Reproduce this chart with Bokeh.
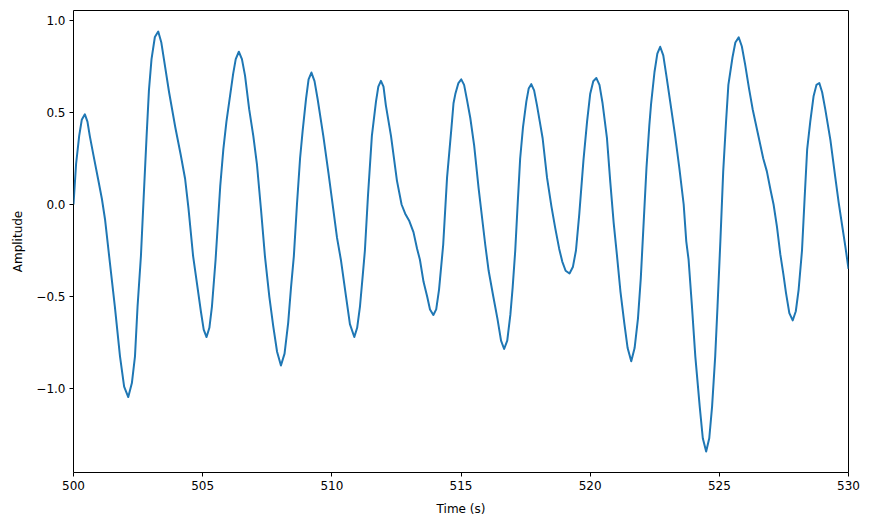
from bokeh.plotting import figure
from bokeh.models import Range1d, FixedTicker
from bokeh.embed import file_html
from bokeh.resources import INLINE

# Data (time in s, amplitude)
time = [500.00, 500.10, 500.22, 500.32, 500.44, 500.54, 500.63, 500.77, 500.95, 501.10,
        501.22, 501.38, 501.60, 501.80, 501.96, 502.12, 502.26, 502.38, 502.48, 502.61,
        502.72, 502.83, 502.92, 503.02, 503.15, 503.28, 503.40, 503.50, 503.70, 503.94,
        504.15, 504.32, 504.45, 504.63, 504.78, 504.93, 505.04, 505.15, 505.26, 505.36,
        505.50, 505.68, 505.80, 505.92, 506.03, 506.18, 506.28, 506.40, 506.52, 506.64,
        506.80, 506.96, 507.10, 507.26, 507.41, 507.58, 507.73, 507.88, 508.03, 508.17,
        508.31, 508.42, 508.53, 508.65, 508.77, 508.87, 509.00, 509.10, 509.21, 509.33,
        509.45, 509.67, 509.87, 510.05, 510.20, 510.35, 510.55, 510.70, 510.87, 510.98,
        511.09, 511.20, 511.28, 511.40, 511.55, 511.71, 511.80, 511.90, 512.00, 512.09,
        512.29, 512.52, 512.70, 512.84, 513.00, 513.16, 513.30, 513.41, 513.55, 513.69,
        513.80, 513.93, 514.04, 514.15, 514.31, 514.46, 514.62, 514.71, 514.78, 514.90,
        515.01, 515.12, 515.23, 515.36, 515.51, 515.68, 515.94, 516.07, 516.25, 516.41,
        516.55, 516.67, 516.79, 516.91, 517.00, 517.10, 517.20, 517.29, 517.40, 517.53,
        517.62, 517.72, 517.83, 517.94, 518.05, 518.16, 518.33, 518.50, 518.65, 518.80,
        518.92, 519.05, 519.20, 519.33, 519.45, 519.58, 519.74, 519.88, 520.00, 520.12,
        520.24, 520.36, 520.48, 520.65, 520.78, 520.91, 521.04, 521.17, 521.32, 521.45,
        521.59, 521.72, 521.85, 521.96, 522.07, 522.18, 522.29, 522.36, 522.49, 522.60,
        522.71, 522.83, 522.95, 523.14, 523.29, 523.45, 523.62, 523.72, 523.81, 523.94,
        524.07, 524.24, 524.36, 524.49, 524.61, 524.72, 524.84, 524.93, 525.04, 525.15,
        525.26, 525.35, 525.51, 525.62, 525.75, 525.87, 526.00, 526.15, 526.29, 526.50,
        526.70, 526.84, 526.98, 527.10, 527.23, 527.36, 527.48, 527.58, 527.71, 527.84,
        527.96, 528.07, 528.20, 528.30, 528.40, 528.52, 528.65, 528.76, 528.87, 528.98,
        529.10, 529.30, 529.49, 529.62, 529.75, 529.88, 530.00]
amplitude = [0.00, 0.22, 0.373, 0.46, 0.49, 0.45, 0.373, 0.27, 0.14, 0.03,
             -0.08, -0.28, -0.553, -0.825, -0.99, -1.046, -0.97, -0.825, -0.553, -0.28,
             0.05, 0.373, 0.62, 0.79, 0.91, 0.94, 0.88, 0.79, 0.61, 0.42,
             0.27, 0.14, -0.02, -0.28, -0.43, -0.58, -0.68, -0.72, -0.67, -0.553,
             -0.30, 0.10, 0.30, 0.45, 0.56, 0.71, 0.79, 0.83, 0.79, 0.70,
             0.518, 0.373, 0.22, -0.03, -0.28, -0.50, -0.66, -0.80, -0.875, -0.81,
             -0.643, -0.45, -0.28, 0.00, 0.25, 0.40, 0.573, 0.68, 0.717, 0.67,
             0.573, 0.373, 0.17, -0.02, -0.18, -0.30, -0.50, -0.65, -0.72, -0.67,
             -0.553, -0.38, -0.25, 0.05, 0.373, 0.56, 0.64, 0.672, 0.64, 0.54,
             0.373, 0.13, 0.00, -0.05, -0.09, -0.15, -0.24, -0.30, -0.42, -0.50,
             -0.57, -0.60, -0.57, -0.462, -0.22, 0.146, 0.40, 0.55, 0.60, 0.66,
             0.68, 0.65, 0.57, 0.47, 0.32, 0.09, -0.22, -0.36, -0.50, -0.62,
             -0.74, -0.785, -0.74, -0.60, -0.45, -0.25, 0.02, 0.25, 0.42, 0.56,
             0.63, 0.654, 0.62, 0.54, 0.45, 0.36, 0.146, -0.01, -0.13, -0.24,
             -0.31, -0.36, -0.375, -0.34, -0.25, -0.05, 0.24, 0.45, 0.60, 0.67,
             0.687, 0.65, 0.55, 0.36, 0.12, -0.10, -0.28, -0.47, -0.643, -0.78,
             -0.852, -0.78, -0.62, -0.40, -0.10, 0.20, 0.43, 0.55, 0.72, 0.82,
             0.857, 0.81, 0.70, 0.518, 0.373, 0.20, 0.00, -0.20, -0.30, -0.553,
             -0.825, -1.097, -1.27, -1.342, -1.27, -1.097, -0.825, -0.553, -0.20, 0.18,
             0.45, 0.65, 0.80, 0.88, 0.908, 0.86, 0.76, 0.63, 0.518, 0.38,
             0.25, 0.18, 0.08, 0.00, -0.12, -0.27, -0.38, -0.48, -0.59, -0.63,
             -0.58, -0.462, -0.25, 0.03, 0.30, 0.45, 0.59, 0.65, 0.66, 0.61,
             0.518, 0.35, 0.146, 0.01, -0.11, -0.23, -0.35]

x_ticks = [500, 505, 510, 515, 520, 525, 530]
y_ticks = [-1.0, -0.5, 0.0, 0.5, 1.0]
y_tick_labels = ["\u22121.0", "\u22120.5", "0.0", "0.5", "1.0"]

ymin, ymax = min(amplitude), max(amplitude)
pad = 0.05 * (ymax - ymin)

p = figure(width=871, height=525, output_backend="svg", toolbar_location=None,
           x_range=Range1d(500, 530), y_range=Range1d(ymin - pad, ymax + pad),
           min_border_left=73, min_border_right=23, min_border_top=10, min_border_bottom=53)

p.line(time, amplitude, line_color="#1f77b4", line_width=2, line_join="round")

FONT = "DejaVu Sans"
p.xaxis.ticker = FixedTicker(ticks=x_ticks)
p.yaxis.ticker = FixedTicker(ticks=y_ticks)
p.yaxis.major_label_overrides = {t: s for t, s in zip(y_ticks, y_tick_labels)}
p.xaxis.axis_label = "Time (s)"
p.yaxis.axis_label = "Amplitude"

for ax in (p.xaxis, p.yaxis):
    ax.axis_line_color = None
    ax.major_tick_line_color = "black"
    ax.major_tick_in = 0
    ax.major_tick_out = 4
    ax.minor_tick_line_color = None
    ax.major_label_text_font = FONT
    ax.major_label_text_font_size = "12px"
    ax.major_label_text_color = "black"
    ax.axis_label_text_font = FONT
    ax.axis_label_text_font_size = "12px"
    ax.axis_label_text_font_style = "normal"
    ax.axis_label_text_color = "black"
    ax.major_label_standoff = 4

p.xaxis.axis_label_standoff = 9
p.yaxis.axis_label_standoff = 8

p.xgrid.visible = False
p.ygrid.visible = False
p.outline_line_color = "black"
p.outline_line_width = 1
p.background_fill_color = "white"
p.border_fill_color = "white"

open("out.html", "w").write(file_html(p, INLINE))
